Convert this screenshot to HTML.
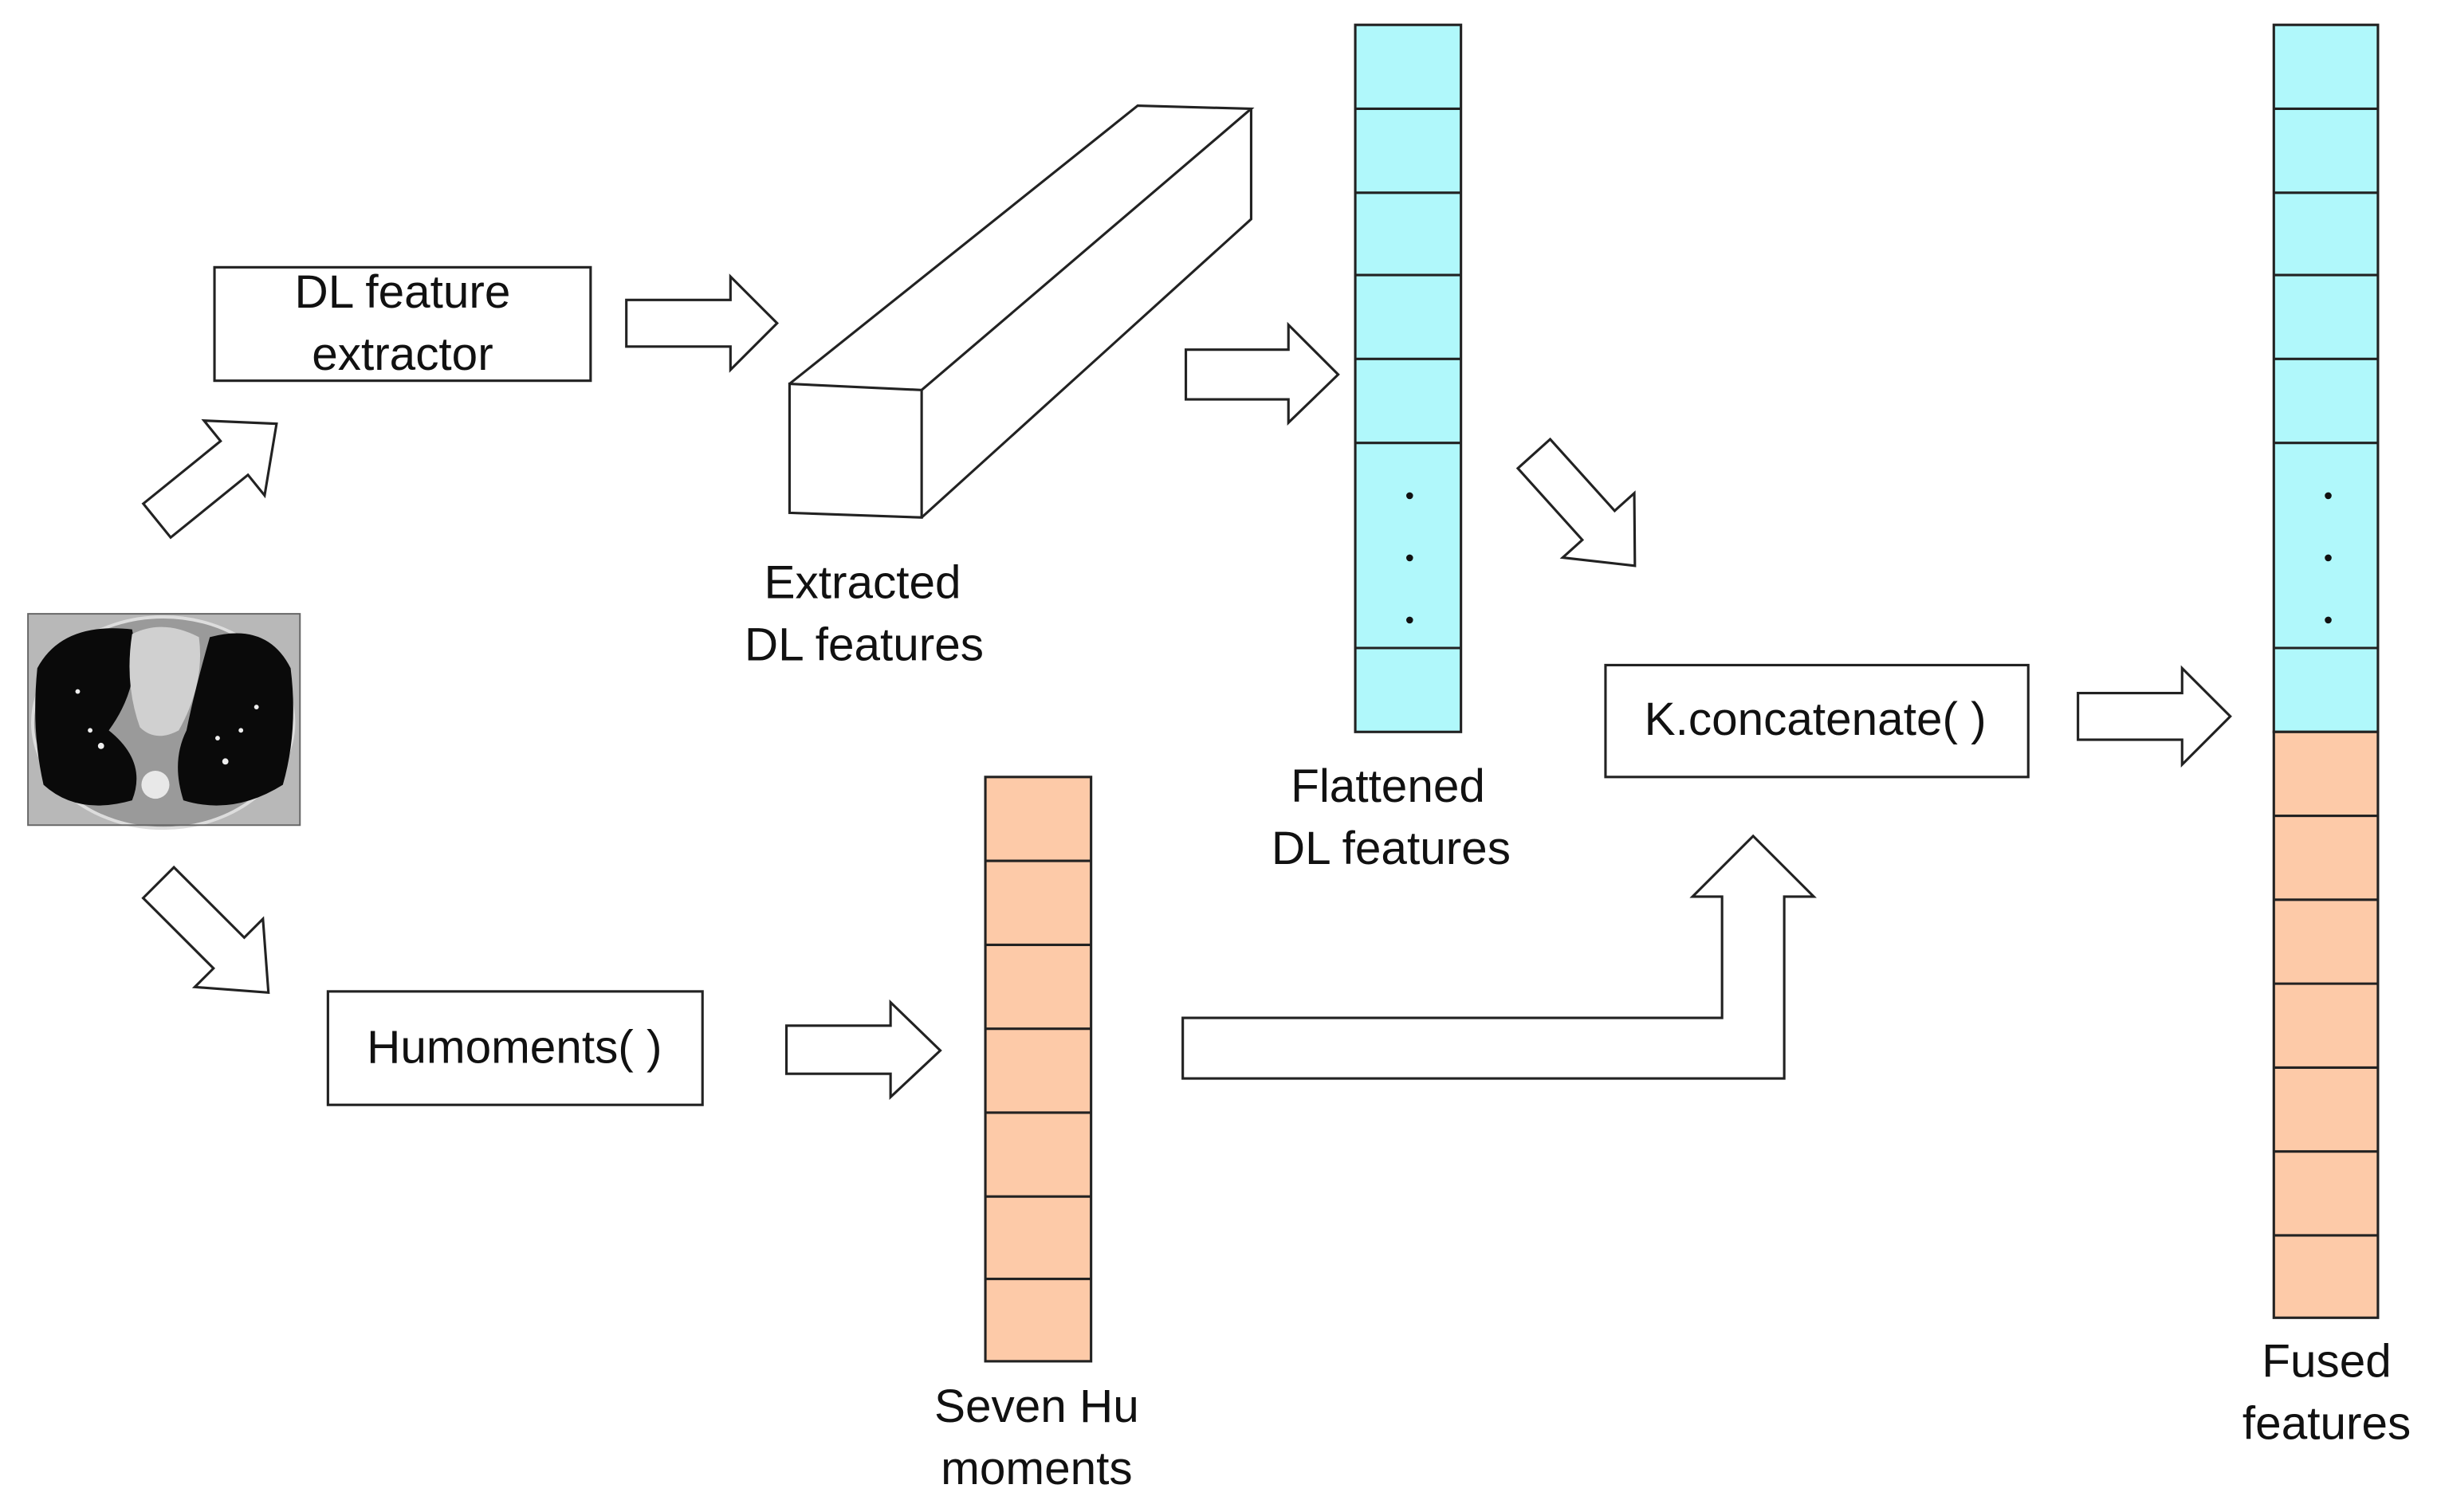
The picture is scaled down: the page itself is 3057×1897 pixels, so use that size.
<!DOCTYPE html>
<html><head><meta charset="utf-8"><style>
html,body{margin:0;padding:0;background:#fff;}
svg{display:block;}
text{font-family:"Liberation Sans",sans-serif;font-size:30px;fill:#111;text-anchor:middle;}
</style></head><body>
<svg width="3057" height="1897" viewBox="0 0 1568 973" preserveAspectRatio="none" xmlns="http://www.w3.org/2000/svg">
<rect width="1568" height="973" fill="#fff"/>
<g stroke="#222" stroke-width="1.6" fill="#fff">
<!-- CT image -->
<rect x="18" y="395" width="175" height="136" fill="#b8b8b8" stroke="none"/>
<ellipse cx="105" cy="465" rx="84" ry="68" fill="#9a9a9a" stroke="#ddd" stroke-width="2"/>
<path d="M24,430 Q40,400 85,405 Q92,440 70,470 Q95,490 85,515 Q50,525 28,505 Q20,470 24,430Z" fill="#0a0a0a" stroke="none"/>
<path d="M187,430 Q172,400 135,410 Q125,445 120,470 Q110,490 118,515 Q150,525 182,505 Q192,470 187,430Z" fill="#0a0a0a" stroke="none"/>
<path d="M85,408 Q105,398 128,410 Q132,440 115,470 Q100,478 90,468 Q80,440 85,408Z" fill="#d0d0d0" stroke="none"/>
<circle cx="100" cy="505" r="9" fill="#e8e8e8" stroke="none"/>
<g fill="#eee" stroke="none">
<circle cx="65" cy="480" r="2"/><circle cx="58" cy="470" r="1.5"/><circle cx="145" cy="490" r="2"/><circle cx="155" cy="470" r="1.5"/><circle cx="140" cy="475" r="1.5"/><circle cx="50" cy="445" r="1.5"/><circle cx="165" cy="455" r="1.5"/></g>
<rect x="18" y="395" width="175" height="136" fill="none" stroke="#666" stroke-width="1"/>

<rect x="138" y="172" width="242" height="73"/>
<rect x="211" y="638" width="241" height="73"/>
<rect x="1033" y="428" width="272" height="72"/>

<path d="M403,193 H470 V178 L500,208 L470,238 V223 H403Z"/>
<path d="M763,225 H829 V209 L861,241 L829,272 V257 H763Z"/>
<path d="M1337,446 H1404 V430 L1435,461 L1404,492 V476 H1337Z"/>
<path d="M506,660 H573 V645 L605,676 L573,706 V691 H506Z"/>
<g transform="translate(101,335) rotate(-39)"><path d="M0,-14 H64 V-31 L99,0 L64,31 V14 H0Z"/></g>
<g transform="translate(102,568) rotate(45)"><path d="M0,-14 H64 V-31 L100,0 L64,31 V14 H0Z"/></g>
<g transform="translate(987,292) rotate(48)"><path d="M0,-14 H62 V-31 L97,0 L62,31 V14 H0Z"/></g>
<path d="M761,694 H1148 V577 H1167 L1128,538 L1089,577 H1108 V655 H761Z"/>

<!-- cuboid -->
<path d="M508,247 L593,251 L593,333 L508,330Z"/>
<path d="M508,247 L732,68 L805,70 L593,251" fill="none"/>
<path d="M805,70 L805,141 L593,333" fill="none"/>

<rect x="872" y="16" width="68" height="455" fill="#b0f8fb"/>
<path d="M872,70H940M872,124H940M872,177H940M872,231H940M872,285H940M872,417H940" fill="none"/>
<rect x="1463" y="16" width="67" height="455" fill="#b0f8fb"/>
<rect x="1463" y="471" width="67" height="377" fill="#fdcaa8"/>
<path d="M1463,70H1530M1463,124H1530M1463,177H1530M1463,231H1530M1463,285H1530M1463,417H1530M1463,525H1530M1463,579H1530M1463,633H1530M1463,687H1530M1463,741H1530M1463,795H1530" fill="none"/>
<rect x="634" y="500" width="68" height="376" fill="#fdcaa8"/>
<path d="M634,554H702M634,608H702M634,662H702M634,716H702M634,770H702M634,823H702" fill="none"/>
</g>
<g fill="#111">
<circle cx="907" cy="319" r="2.2"/><circle cx="907" cy="359" r="2.2"/><circle cx="907" cy="399" r="2.2"/>
<circle cx="1498" cy="319" r="2.2"/><circle cx="1498" cy="359" r="2.2"/><circle cx="1498" cy="399" r="2.2"/>
</g>
<text x="259" y="198">DL feature</text>
<text x="259" y="238">extractor</text>
<text x="331" y="684">Humoments( )</text>
<text x="1168" y="473">K.concatenate( )</text>
<text x="555" y="385">Extracted</text>
<text x="556" y="425">DL features</text>
<text x="893" y="516">Flattened</text>
<text x="895" y="556">DL features</text>
<text x="667" y="915">Seven Hu</text>
<text x="667" y="955">moments</text>
<text x="1497" y="886">Fused</text>
<text x="1497" y="926">features</text>
</svg>
</body></html>
